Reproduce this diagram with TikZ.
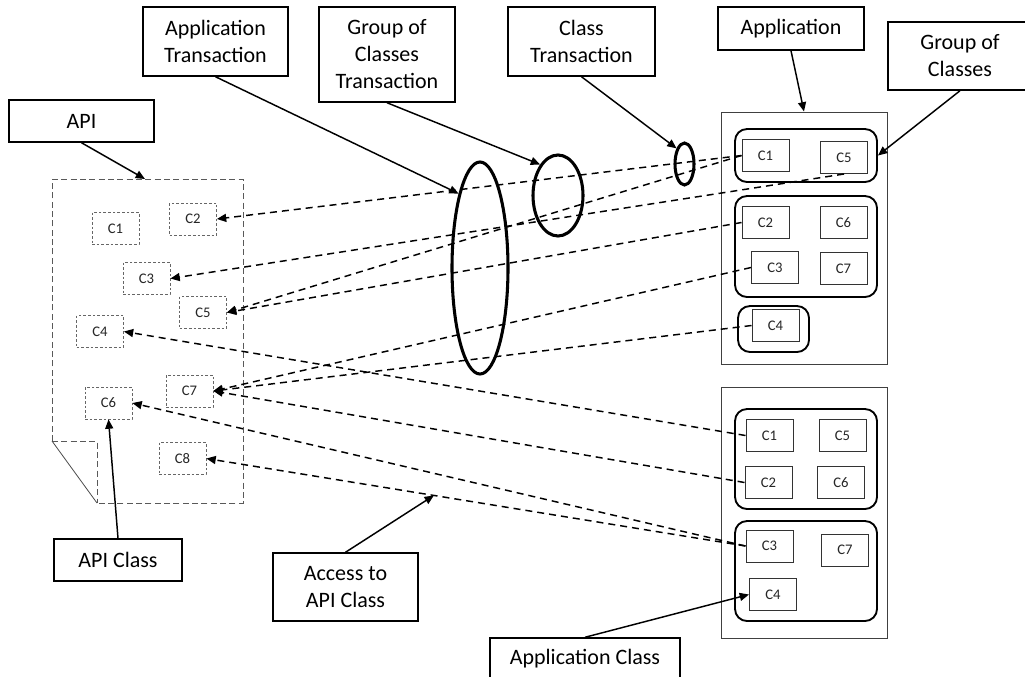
\documentclass[tikz,border=0pt]{standalone}
\usepackage{fontspec}
\setmainfont{Carlito}
\usetikzlibrary{arrows.meta,shapes.geometric,calc}
\begin{document}
\begin{tikzpicture}[x=0.75pt,y=-0.75pt,
 lbl/.style={draw=black,line width=1.1pt,fill=white,inner sep=0pt,align=center,font=\fontsize{16.5pt}{20.25pt}\selectfont},
 acls/.style={draw=black!80,line width=0.75pt,fill=white,inner sep=0pt,minimum width=35.25pt,minimum height=24pt,text=black!85,font=\fontsize{11pt}{13pt}\selectfont},
 pcls/.style={draw=black!60,dash pattern=on 2pt off 1.5pt,line width=0.6pt,inner sep=0pt,minimum width=35.25pt,minimum height=24pt,text=black!85,font=\fontsize{11pt}{13pt}\selectfont},
 grpbox/.style={draw=black,line width=1.4pt,rounded corners=9pt,inner sep=0pt},
 appbox/.style={draw=black!75,line width=0.75pt,inner sep=0pt},
 ell/.style={ellipse,draw=black,line width=2.3pt,inner sep=0pt},
 docline/.style={draw=black!65,line width=0.75pt,dash pattern=on 4.5pt off 2.5pt},
 dl/.style={draw=black,line width=1.1pt,dash pattern=on 5.25pt off 3.75pt,-{Triangle[length=7pt,width=6pt]}},
 arr/.style={draw=black,line width=1.1pt,-{Triangle[length=7pt,width=6pt]}}
]
\useasboundingbox (0,0) rectangle (1025,676);
\clip (0,0) rectangle (1025,676);
\fill[white] (0,0) rectangle (1025,676);

% API document
\draw[docline] (52,179) -- (243,179) -- (243,503) -- (97,503);
\draw[docline] (52,441) -- (52,179);
\draw[docline] (52,441) -- (97,441) -- (97,503);
\draw[black!70,line width=0.6pt] (52,441) -- (97,503);
\coordinate (doctop) at (145,179);

% API classes
\node[pcls] (aC1) at (115.5,228.5) {C1};
\node[pcls] (aC2) at (193,219) {C2};
\node[pcls] (aC3) at (146.5,278.5) {C3};
\node[pcls] (aC5) at (203,312.5) {C5};
\node[pcls] (aC4) at (100,331.5) {C4};
\node[pcls] (aC7) at (189.5,391) {C7};
\node[pcls] (aC6) at (108.5,403) {C6};
\node[pcls] (aC8) at (182.5,458.5) {C8};

% Application 1
\node[appbox, minimum width=124.5pt, minimum height=189pt] (A1) at (804,238) {};
\node[grpbox, minimum width=106.5pt, minimum height=39.75pt] (G11) at (806,155.5) {};
\node[grpbox, minimum width=106.5pt, minimum height=75.75pt] (G12) at (806,246.5) {};
\node[grpbox, minimum width=53.25pt, minimum height=34.5pt] (G13) at (773.5,329) {};
\node[acls] (m1) at (765.5,155.5) {C1};
\node[acls] (m5) at (844,157.5) {C5};
\node[acls] (m2) at (765.5,222.5) {C2};
\node[acls] (m6) at (843.5,222.5) {C6};
\node[acls] (m3) at (775,267.5) {C3};
\node[acls] (m7) at (843.5,268.5) {C7};
\node[acls] (m4) at (775.5,325.5) {C4};

% Application 2
\node[appbox, minimum width=124.5pt, minimum height=188.25pt] (A2) at (804,512.5) {};
\node[grpbox, minimum width=106.5pt, minimum height=75pt] (G21) at (806,459) {};
\node[grpbox, minimum width=106.5pt, minimum height=75pt] (G22) at (806,571) {};
\node[acls] (n1) at (769.5,435.5) {C1};
\node[acls] (n5) at (842.5,435.5) {C5};
\node[acls] (n2) at (768.5,482.5) {C2};
\node[acls] (n6) at (841,482.5) {C6};
\node[acls] (n3) at (769.5,546) {C3};
\node[acls] (n7) at (845,550) {C7};
\node[acls] (n4) at (773,594.5) {C4};

% transaction ellipses
\node[ell, minimum width=42pt, minimum height=159pt] (e1) at (480,268) {};
\node[ell, minimum width=37.5pt, minimum height=60.75pt] (e2) at (558,195.5) {};
\node[ell, minimum width=14.25pt, minimum height=31.5pt] (e3) at (684.5,164) {};

% labels
\node[lbl, minimum width=108.75pt, minimum height=51.75pt] (apptr) at (215.5,41.5) {Application\\Transaction};
\node[lbl, minimum width=102pt, minimum height=71.25pt] (grptr) at (387,54.5) {Group of\\Classes\\Transaction};
\node[lbl, minimum width=110.25pt, minimum height=51.75pt] (clstr) at (581.5,41.5) {Class\\Transaction};
\node[lbl, minimum width=109.5pt, minimum height=32.25pt] (app) at (791,28.5) {Application};
\node[lbl, minimum width=108pt, minimum height=51pt] (grp) at (960,56) {Group of\\Classes};
\node[lbl, minimum width=108.75pt, minimum height=31.5pt] (api) at (81.5,121) {API};
\node[lbl, minimum width=96pt, minimum height=31.5pt] (apicls) at (118,560) {API Class};
\node[lbl, minimum width=108.75pt, minimum height=51pt] (access) at (345.5,587) {Access to\\API Class};
\node[lbl, minimum width=142.5pt, minimum height=31.5pt] (appcls) at (585,659) {Application Class};

% dashed access links
\draw[dl] (m1.west) -- (aC2.east);
\draw[dl] (m1.west) -- (aC5.east);
\draw[dl] (m5.south) -- (aC3.east);
\draw[dl] (m2.west) -- (aC5.east);
\draw[dl] (m3.west) -- (aC7.east);
\draw[dl] (m4.west) -- (aC7.east);
\draw[dl] (n1.west) -- (aC4.east);
\draw[dl] (n2.west) -- (aC7.east);
\draw[dl] (n3.west) -- (aC6.east);
\draw[dl] (n3.west) -- (aC8.east);
\coordinate (acc) at ($(aC8.east)!0.422!(n3.west)$);

% solid pointer arrows
\draw[arr] (api.south) -- (doctop);
\draw[arr] (apptr.south) -- (e1.106);
\draw[arr] (grptr.south) -- (e2.120);
\draw[arr] (clstr.south) -- (e3.117);
\draw[arr] (app.south) -- (A1.north);
\draw[arr] (grp.south) -- (G11.east);
\draw[arr] (apicls.north) -- (aC6.south);
\draw[arr] (access.north) -- (acc);
\draw[arr] (appcls.north) -- (n4.west);
\end{tikzpicture}
\end{document}
